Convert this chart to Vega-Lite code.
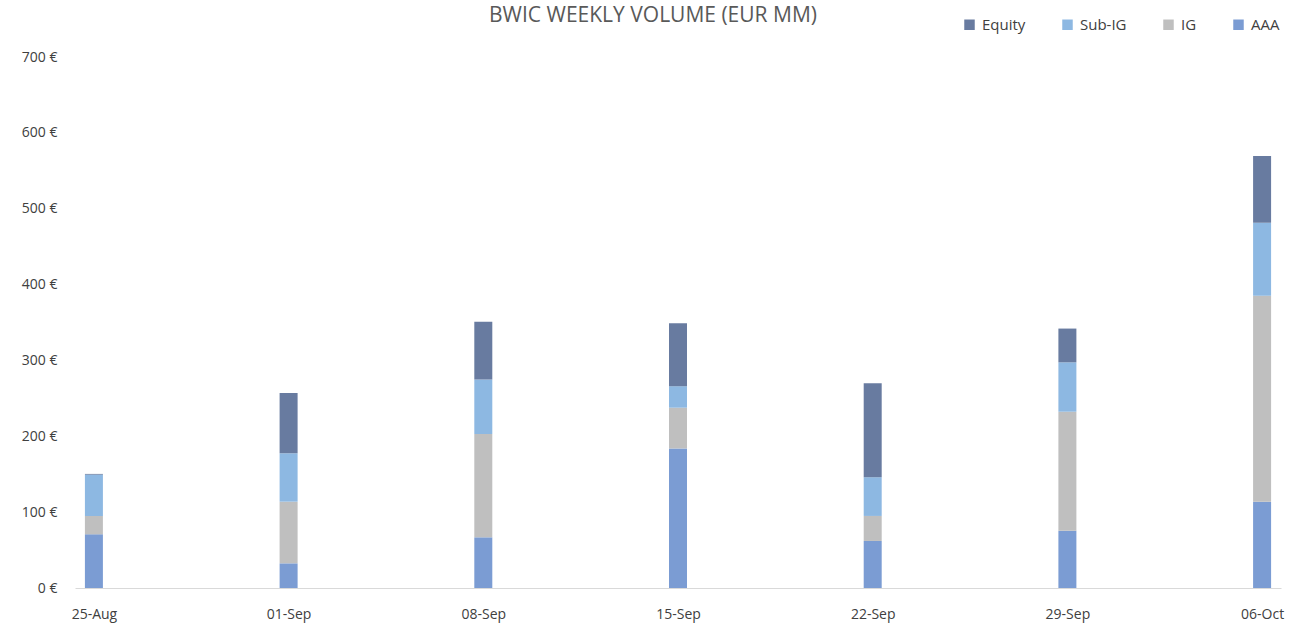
{
  "$schema": "https://vega.github.io/schema/vega-lite/v6.json",
  "width": 1206,
  "height": 531,
  "autosize": {"type": "none"},
  "padding": {"left": 75, "top": 57, "right": 15, "bottom": 38},
  "background": "white",
  "title": {
    "text": "BWIC WEEKLY VOLUME (EUR MM)",
    "fontSize": 21,
    "font": "Open Sans",
    "fontWeight": "normal",
    "color": "#595959",
    "anchor": "middle",
    "offset": 39,
    "dy": 48,
    "dx": -25
  },
  "config": {
    "view": {"stroke": null},
    "font": "Open Sans"
  },
  "data": {
    "values": [
      {"date": "2025-08-25", "cls": "AAA", "ord": 1, "v": 70.8},
      {"date": "2025-08-25", "cls": "IG", "ord": 2, "v": 24.1},
      {"date": "2025-08-25", "cls": "Sub-IG", "ord": 3, "v": 54.5},
      {"date": "2025-08-25", "cls": "Equity", "ord": 4, "v": 1},
      {"date": "2025-09-01", "cls": "AAA", "ord": 1, "v": 32.5},
      {"date": "2025-09-01", "cls": "IG", "ord": 2, "v": 81.3},
      {"date": "2025-09-01", "cls": "Sub-IG", "ord": 3, "v": 63.8},
      {"date": "2025-09-01", "cls": "Equity", "ord": 4, "v": 79.4},
      {"date": "2025-09-08", "cls": "AAA", "ord": 1, "v": 66.8},
      {"date": "2025-09-08", "cls": "IG", "ord": 2, "v": 136.2},
      {"date": "2025-09-08", "cls": "Sub-IG", "ord": 3, "v": 72},
      {"date": "2025-09-08", "cls": "Equity", "ord": 4, "v": 76},
      {"date": "2025-09-15", "cls": "AAA", "ord": 1, "v": 184},
      {"date": "2025-09-15", "cls": "IG", "ord": 2, "v": 53.7},
      {"date": "2025-09-15", "cls": "Sub-IG", "ord": 3, "v": 28.3},
      {"date": "2025-09-15", "cls": "Equity", "ord": 4, "v": 83},
      {"date": "2025-09-22", "cls": "AAA", "ord": 1, "v": 62},
      {"date": "2025-09-22", "cls": "IG", "ord": 2, "v": 33},
      {"date": "2025-09-22", "cls": "Sub-IG", "ord": 3, "v": 51},
      {"date": "2025-09-22", "cls": "Equity", "ord": 4, "v": 124},
      {"date": "2025-09-29", "cls": "AAA", "ord": 1, "v": 75.6},
      {"date": "2025-09-29", "cls": "IG", "ord": 2, "v": 156.8},
      {"date": "2025-09-29", "cls": "Sub-IG", "ord": 3, "v": 65.1},
      {"date": "2025-09-29", "cls": "Equity", "ord": 4, "v": 44.5},
      {"date": "2025-10-06", "cls": "AAA", "ord": 1, "v": 113.8},
      {"date": "2025-10-06", "cls": "IG", "ord": 2, "v": 271.5},
      {"date": "2025-10-06", "cls": "Sub-IG", "ord": 3, "v": 96.2},
      {"date": "2025-10-06", "cls": "Equity", "ord": 4, "v": 88}
    ]
  },
  "mark": {"type": "bar", "size": 18},
  "encoding": {
    "x": {
      "field": "date",
      "type": "temporal",
      "scale": {
        "type": "utc",
        "domain": [
          {"year": 2025, "month": 8, "date": 24, "hours": 12, "utc": true},
          {"year": 2025, "month": 10, "date": 6, "hours": 12, "utc": true}
        ]
      },
      "axis": {
        "title": null,
        "values": [
          {"year": 2025, "month": 8, "date": 25, "utc": true},
          {"year": 2025, "month": 9, "date": 1, "utc": true},
          {"year": 2025, "month": 9, "date": 8, "utc": true},
          {"year": 2025, "month": 9, "date": 15, "utc": true},
          {"year": 2025, "month": 9, "date": 22, "utc": true},
          {"year": 2025, "month": 9, "date": 29, "utc": true},
          {"year": 2025, "month": 10, "date": 6, "utc": true}
        ],
        "labelExpr": "utcFormat(datum.value, '%d-%b')",
        "labelFontSize": 14,
        "labelColor": "#404040",
        "labelPadding": 19,
        "labelFlush": false,
        "ticks": false,
        "grid": false,
        "domainColor": "#D9D9D9",
        "domainWidth": 1.2
      }
    },
    "y": {
      "field": "v",
      "type": "quantitative",
      "aggregate": "sum",
      "stack": "zero",
      "scale": {"domain": [0, 700], "nice": false},
      "axis": {
        "title": null,
        "values": [0, 100, 200, 300, 400, 500, 600, 700],
        "labelExpr": "datum.value + ' €'",
        "labelFontSize": 14,
        "labelColor": "#404040",
        "labelPadding": 18,
        "ticks": false,
        "grid": false,
        "domain": false
      }
    },
    "order": {"field": "ord", "type": "quantitative", "sort": "ascending"},
    "color": {
      "field": "cls",
      "type": "nominal",
      "scale": {
        "domain": ["Equity", "Sub-IG", "IG", "AAA"],
        "range": ["#687BA0", "#8DB8E2", "#BFBFBF", "#7B9CD3"]
      },
      "legend": {
        "title": null,
        "orient": "none",
        "direction": "horizontal",
        "legendX": 887,
        "legendY": -40,
        "symbolType": "square",
        "symbolSize": 110,
        "symbolStrokeWidth": 0,
        "labelFontSize": 15,
        "labelColor": "#404040",
        "columnPadding": 34,
        "labelOffset": 5
      }
    }
  }
}
